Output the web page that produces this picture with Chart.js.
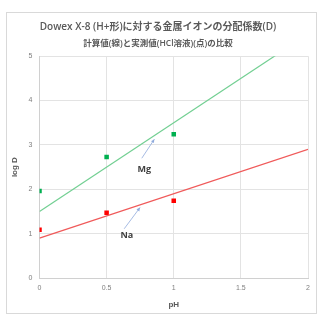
<!DOCTYPE html>
<html>
<head>
<meta charset="utf-8">
<script src="https://cdn.jsdelivr.net/npm/chart.js@4.4.1/dist/chart.umd.min.js"></script>
<style>
  body { margin: 0; background: #fff; }
  #wrap { position: relative; width: 320px; height: 320px; }
  #frame { position: absolute; left: 6px; top: 12px; width: 309px; height: 300px; border: 1px solid #d9d9d9; pointer-events: none; }
</style>
</head>
<body>
<div id="wrap">
  <canvas id="chart" width="320" height="320"></canvas>
  <div id="frame"></div>
</div>
<script>
// 実測値 (点)
let measPH = [0, 0.5, 1];
let mgMeas = [1.96, 2.73, 3.24];
let naMeas = [1.09, 1.47, 1.74];

// 計算値 (線) pH=0 と pH=2 の値
let calcPH = [0, 2];
let mgCalc = [1.5, 5.5];
let naCalc = [0.9, 2.9];

// 目盛り
let xTicks = [0, 0.5, 1, 1.5, 2];
let xTickLabels = ['0', '0.5', '1', '1.5', '2'];
let yTicks = [0, 1, 2, 3, 4, 5];

// 注釈 (ラベル, 文字位置, 矢印の根元, 矢印の先)
let noteLabels = ['Mg', 'Na'];
let noteText = [[0.78, 2.44], [0.65, 0.95]];
let noteTail = [[0.762, 2.70], [0.631, 1.11]];
let noteHead = [[0.856, 3.13], [0.749, 1.59]];

function pts(xs, ys) {
  return xs.map(function (x, i) { return { x: x, y: ys[i] }; });
}

// 矢印と文字
let notePlugin = {
  id: 'notes',
  afterDatasetsDraw: function (chart) {
    let ctx = chart.ctx;
    let xs = chart.scales.x;
    let ys = chart.scales.y;
    ctx.save();
    for (let i = 0; i < noteLabels.length; i++) {
      let x1 = xs.getPixelForValue(noteTail[i][0]);
      let y1 = ys.getPixelForValue(noteTail[i][1]);
      let x2 = xs.getPixelForValue(noteHead[i][0]);
      let y2 = ys.getPixelForValue(noteHead[i][1]);
      ctx.strokeStyle = '#8faadc';
      ctx.fillStyle = '#8faadc';
      ctx.lineWidth = 0.8;
      ctx.beginPath();
      ctx.moveTo(x1, y1);
      ctx.lineTo(x2, y2);
      ctx.stroke();
      let a = Math.atan2(y2 - y1, x2 - x1);
      ctx.beginPath();
      ctx.moveTo(x2, y2);
      ctx.lineTo(x2 - 4 * Math.cos(a - 0.45), y2 - 4 * Math.sin(a - 0.45));
      ctx.lineTo(x2 - 4 * Math.cos(a + 0.45), y2 - 4 * Math.sin(a + 0.45));
      ctx.closePath();
      ctx.fill();

      ctx.fillStyle = '#404040';
      ctx.font = 'bold 9px "Open Sans", sans-serif';
      ctx.textAlign = 'center';
      ctx.textBaseline = 'middle';
      ctx.fillText(noteLabels[i], xs.getPixelForValue(noteText[i][0]), ys.getPixelForValue(noteText[i][1]));
    }
    ctx.restore();
  }
};

let ctx = document.getElementById('chart');
let chart = new Chart(ctx, {
  type: 'scatter',
  data: {
    datasets: [{
      label: 'Mg 計算値',
      data: pts(calcPH, mgCalc),
      showLine: true,
      borderColor: '#72cf92',
      borderWidth: 1.2,
      pointRadius: 0
    }, {
      label: 'Na 計算値',
      data: pts(calcPH, naCalc),
      showLine: true,
      borderColor: '#f05a5a',
      borderWidth: 1.2,
      pointRadius: 0
    }, {
      label: 'Mg 実測値',
      data: pts(measPH, mgMeas),
      pointStyle: 'rect',
      pointRadius: 3.2,
      backgroundColor: '#00b050',
      borderColor: '#00b050',
      borderWidth: 0
    }, {
      label: 'Na 実測値',
      data: pts(measPH, naMeas),
      pointStyle: 'rect',
      pointRadius: 3.2,
      backgroundColor: '#ff0000',
      borderColor: '#ff0000',
      borderWidth: 0
    }]
  },
  options: {
    responsive: false,
    animation: false,
    layout: { padding: { left: 8, right: 12, top: 10, bottom: 8 } },
    plugins: {
      legend: { display: false },
      tooltip: { enabled: false },
      title: {
        display: true,
        text: 'Dowex X-8 (H+形)に対する金属イオンの分配係数(D)',
        color: '#595959',
        font: { family: '"Open Sans", "Noto Sans CJK JP", sans-serif', size: 10, weight: '600' },
        padding: { top: 11, bottom: 5 }
      },
      subtitle: {
        display: true,
        text: '計算値(線)と実測値(HCl溶液)(点)の比較',
        color: '#595959',
        font: { family: '"Open Sans", "Noto Sans CJK JP", sans-serif', size: 8.5, weight: '600' },
        padding: { bottom: 8 }
      }
    },
    scales: {
      x: {
        type: 'linear',
        min: 0,
        max: 2,
        afterBuildTicks: function (axis) { axis.ticks = xTicks.map(function (v) { return { value: v }; }); },
        ticks: {
          color: '#7f7f7f', font: { size: 7 }, maxRotation: 0, padding: 6,
          callback: function (v) { return xTickLabels[xTicks.indexOf(v)]; }
        },
        grid: { color: '#e3e3e3', drawTicks: false },
        border: { color: '#d0d0d0' },
        title: { display: true, text: 'pH', color: '#595959', font: { size: 8, weight: 'bold' }, padding: 2 }
      },
      y: {
        type: 'linear',
        min: 0,
        max: 5,
        afterBuildTicks: function (axis) { axis.ticks = yTicks.map(function (v) { return { value: v }; }); },
        ticks: { color: '#7f7f7f', font: { size: 7 }, padding: 7 },
        grid: { color: '#e3e3e3', drawTicks: false },
        border: { color: '#d0d0d0' },
        title: { display: true, text: 'log D', color: '#595959', font: { size: 8, weight: 'bold' }, padding: 2 }
      }
    }
  },
  plugins: [notePlugin]
});
</script>
</body>
</html>
